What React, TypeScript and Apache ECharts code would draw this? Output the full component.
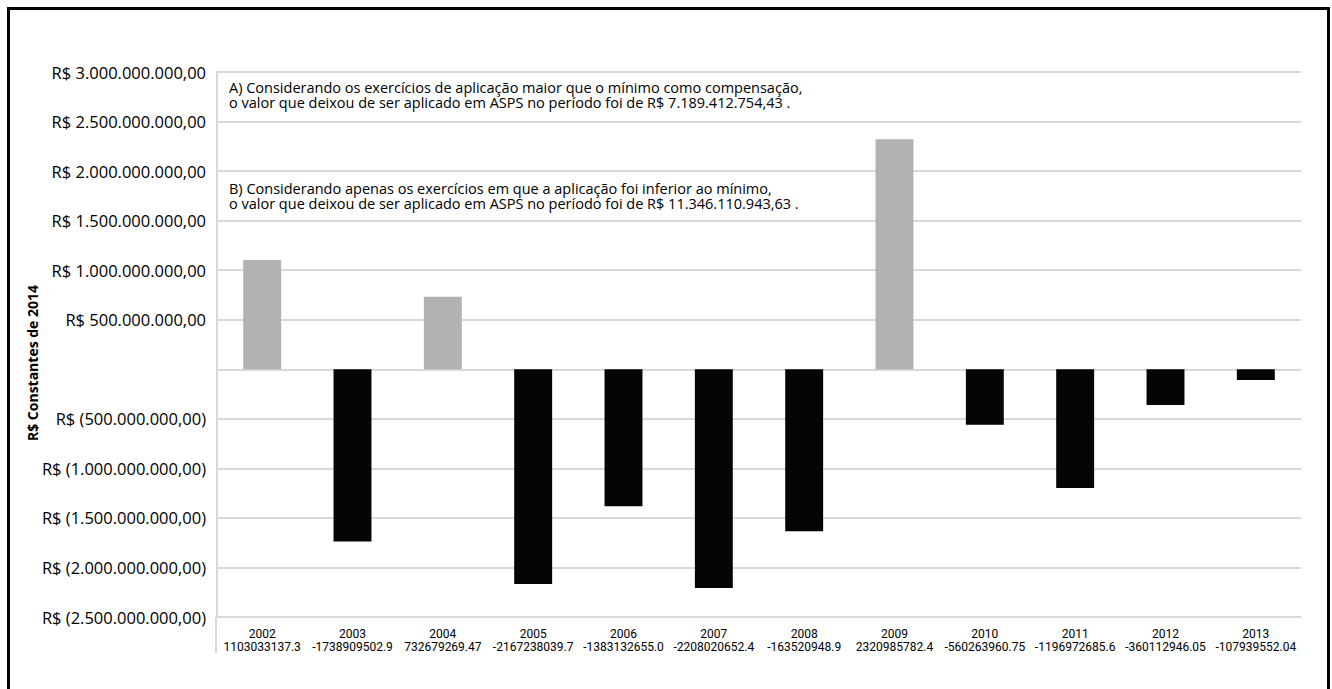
import React, { useEffect, useRef } from "react";
import * as echarts from "echarts";

const categories = ["2002", "2003", "2004", "2005", "2006", "2007", "2008", "2009", "2010", "2011", "2012", "2013"];
const values = [
  1103033137.3, -1738909502.9, 732679269.47, -2167238039.7, -1383132655.0, -2208020652.4,
  -1635209488.9, 2320985782.4, -560263960.75, -1196972685.6, -360112946.05, -107939552.04,
];
const valueLabels = [
  "1103033137.3", "-1738909502.9", "732679269.47", "-2167238039.7", "-1383132655.0", "-2208020652.4",
  "-163520948.9", "2320985782.4", "-560263960.75", "-1196972685.6", "-360112946.05", "-107939552.04",
];
const yMin = -2500000000;
const yMax = 3000000000;
const yStep = 500000000;
const yTitle = "R$ Constantes de 2014";
const noteA = [
  "A) Considerando os exercícios de aplicação maior que o mínimo como compensação,",
  "o valor que deixou de ser aplicado em ASPS no período foi de R$ 7.189.412.754,43 .",
];
const noteB = [
  "B) Considerando apenas os exercícios em que a aplicação foi inferior ao mínimo,",
  "o valor que deixou de ser aplicado em ASPS no período foi de R$ 11.346.110.943,63 .",
];

const FONT = "'Open Sans', 'Noto Sans', sans-serif";
const NARROW = "'Liberation Sans Narrow', 'Roboto', sans-serif";
const GRID = "#d9d9d9";

function brl(v: number): string {
  if (v === 0) return "";
  const abs = Math.abs(v);
  const [i, d] = abs.toFixed(2).split(".");
  const int = i.replace(/\B(?=(\d{3})+(?!\d))/g, ".");
  return v < 0 ? `R$ (${int},${d})` : `R$ ${int},${d}`;
}

function noteLines(lines: string[], y0: number, step: number) {
  return lines.map((t, k) => ({
    type: "text",
    x: 229,
    y: y0 + k * step,
    style: {
      text: t,
      fill: "#000",
      font: `14.5px ${FONT}`,
      align: "left",
      verticalAlign: "middle",
    },
  }));
}

export default function App() {
  const ref = useRef<HTMLDivElement>(null);
  useEffect(() => {
    document.documentElement.style.overflow = "hidden";
    document.body.style.overflow = "hidden";
    const chart = echarts.init(ref.current!, undefined, { renderer: "svg" });
    chart.setOption({
      animation: false,
      backgroundColor: "transparent",
      grid: { left: 217, right: 31, top: 72, bottom: 72, containLabel: false },
      xAxis: {
        type: "category",
        data: categories,
        axisLine: { show: false, onZero: false },
        axisTick: { show: false },
        axisLabel: {
          interval: 0,
          margin: 10,
          color: "#000",
          fontFamily: NARROW,
          fontSize: 12,
          lineHeight: 13,
          formatter: (val: string, idx: number) => `${val}\n${valueLabels[idx]}`,
        },
        splitLine: { show: false },
      },
      yAxis: {
        type: "value",
        min: yMin,
        max: yMax,
        interval: yStep,
        axisLine: { show: true, lineStyle: { color: GRID, width: 2 } },
        axisTick: { show: false },
        axisLabel: {
          margin: 11,
          color: "#000",
          fontFamily: FONT,
          fontSize: 16.5,
          formatter: (v: number) => brl(v),
        },
        splitLine: { show: true, lineStyle: { color: GRID, width: 2 } },
      },
      series: [
        {
          type: "bar",
          data: values,
          barWidth: "42%",
          itemStyle: {
            color: (p: any) => (p.value >= 0 ? "#b2b2b2" : "#050505"),
          },
        },
      ],
      graphic: [
        {
          type: "line",
          shape: { x1: 216, y1: 617, x2: 216, y2: 653 },
          style: { stroke: GRID, lineWidth: 2 },
          silent: true,
        },
        {
          type: "text",
          x: 32,
          y: 363,
          rotation: Math.PI / 2,
          style: {
            text: yTitle,
            fill: "#000",
            font: `bold 14px ${FONT}`,
            align: "center",
            verticalAlign: "middle",
          },
        },
        ...noteLines(noteA, 87, 15.5),
        ...noteLines(noteB, 188, 15.5),
      ],
    });
    return () => chart.dispose();
  }, []);
  return (
    <>
      <div
        style={{
          position: "fixed",
          left: 7,
          top: 7,
          width: 1323,
          height: 720,
          border: "3px solid #000",
          boxSizing: "border-box",
          background: "#fff",
        }}
      />
      <div ref={ref} style={{ position: "fixed", left: 0, top: 0, width: 1332, height: 689 }} />
    </>
  );
}
